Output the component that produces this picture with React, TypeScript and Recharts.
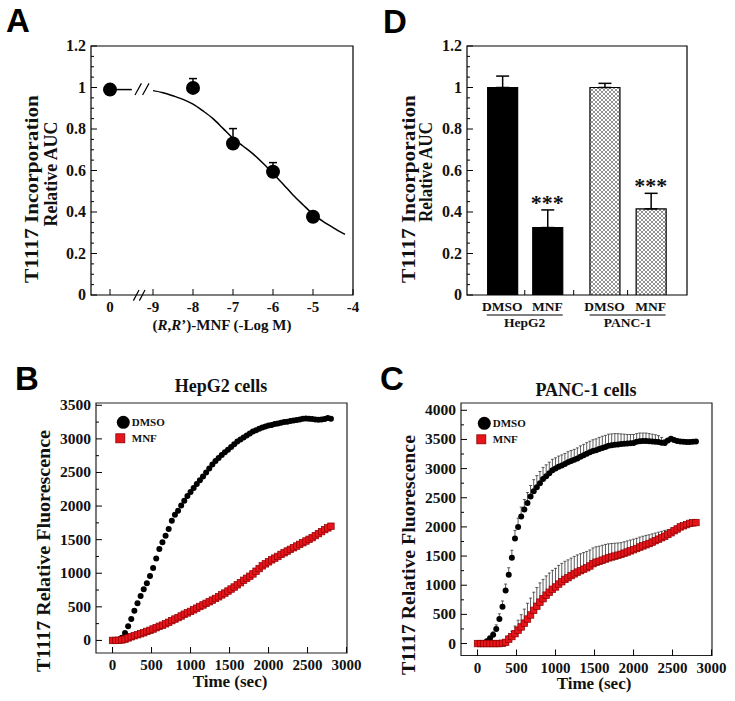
import React from "react";
import {
  ComposedChart, Line, Scatter, Bar, Cell, XAxis, YAxis, ErrorBar, ReferenceArea, ReferenceLine,
} from "recharts";

const SERIF = '"Liberation Serif", "Times New Roman", serif';
const SANS = '"Liberation Sans", Arial, sans-serif';
const RED = "#e8141c";
const RED_EDGE = "#8a0000";

// ---- Panel A: dose response ----
const doseLabels = ["0", "-8", "-7", "-6", "-5"];
const doseX = [-10.075, -8, -7, -6, -5]; // "0" dose sits left of the axis break
const doseAuc = [0.99, 0.998, 0.73, 0.594, 0.377];
const doseErr = [0, 0.045, 0.072, 0.044, 0];
const fitX = [-9, -8.75, -8.5, -8.25, -8, -7.75, -7.5, -7.25, -7, -6.75, -6.5, -6.25, -6, -5.75, -5.5, -5.25, -5, -4.75, -4.5, -4.2];
const fitY = [0.985, 0.975, 0.96, 0.943, 0.92, 0.887, 0.85, 0.803, 0.755, 0.718, 0.68, 0.635, 0.586, 0.535, 0.482, 0.435, 0.39, 0.355, 0.325, 0.292];
const xTicksA = [-10.075, -9, -8, -7, -6, -5, -4];
const xTickLabelsA = ["0", "-9", "-8", "-7", "-6", "-5", "-4"];
const yTicksAuc = [0, 0.05, 0.1, 0.15, 0.2, 0.25, 0.3, 0.35, 0.4, 0.45, 0.5, 0.55, 0.6, 0.65, 0.7, 0.75, 0.8, 0.85, 0.9, 0.95, 1, 1.05, 1.1, 1.15, 1.2];
const yMajorAuc = [0, 0.2, 0.4, 0.6, 0.8, 1, 1.2];
const breakX = -9.53;

// ---- Panel D: bars ----
const barNames = ["DMSO", "MNF", "DMSO", "MNF"];
const barCells = ["HepG2", "HepG2", "PANC-1", "PANC-1"];
const barX = [1.6, 3.65, 6.25, 8.35];
const barAuc = [1.0, 0.325, 1.0, 0.415];
const barErr = [0.055, 0.085, 0.02, 0.075];
const barSig = ["", "***", "", "***"];
const groupNames = ["HepG2", "PANC-1"];
const groupX = [2.625, 7.3];
const splitX = [4.85];

// ---- Panels B, C: kinetics ----
const times = [0, 40, 80, 120, 160, 200, 240, 280, 320, 360, 400, 440, 480, 520, 560, 600, 640, 680, 720, 760, 800, 840, 880, 920, 960, 1000, 1040, 1080, 1120, 1160, 1200, 1240, 1280, 1320, 1360, 1400, 1440, 1480, 1520, 1560, 1600, 1640, 1680, 1720, 1760, 1800, 1840, 1880, 1920, 1960, 2000, 2040, 2080, 2120, 2160, 2200, 2240, 2280, 2320, 2360, 2400, 2440, 2480, 2520, 2560, 2600, 2640, 2680, 2720, 2760, 2800];
const hepDmso = [0, 0, 5, 40, 110, 210, 320, 440, 555, 660,
  760, 850, 960, 1080, 1220, 1360, 1460, 1560, 1660, 1780,
  1870, 1930, 2010, 2080, 2150, 2210, 2270, 2330, 2385, 2440,
  2500, 2560, 2620, 2670, 2715, 2760, 2800, 2840, 2880, 2920,
  2960, 2990, 3020, 3050, 3080, 3110, 3130, 3150, 3170, 3185,
  3200, 3205, 3220, 3230, 3240, 3250, 3255, 3265, 3275, 3280,
  3290, 3300, 3305, 3300, 3295, 3290, 3285, 3290, 3295, 3310,
  3300];
const hepMnf = [0, 0, 2, 8, 20, 38, 55, 70, 85, 100,
  115, 134, 150, 170, 190, 210, 227, 248, 270, 295,
  318, 340, 364, 390, 410, 432, 456, 480, 505, 528,
  552, 576, 600, 625, 650, 678, 705, 735, 765, 795,
  828, 860, 895, 925, 955, 990, 1030, 1070, 1110, 1140,
  1170, 1200, 1225, 1250, 1280, 1305, 1330, 1355, 1380, 1405,
  1430, 1455, 1480, 1505, 1530, 1560, 1590, 1620, 1650, 1675,
  1700];
const pancDmso = [0, 0, 0, 40, 90, 150, 250, 420, 630, 910,
  1180, 1470, 1800, 2000, 2180, 2300, 2410, 2520, 2610, 2680,
  2750, 2820, 2870, 2920, 2970, 3000, 3030, 3055, 3080, 3110,
  3130, 3150, 3175, 3205, 3230, 3255, 3280, 3300, 3315, 3335,
  3355, 3370, 3390, 3400, 3410, 3415, 3420, 3425, 3430, 3435,
  3440, 3460, 3470, 3475, 3475, 3470, 3465, 3460, 3455, 3445,
  3440, 3480, 3510, 3490, 3475, 3465, 3460, 3455, 3455, 3460,
  3465];
const pancDmsoErr = [0, 0, 0, 20, 30, 50, 70, 90, 100, 110,
  120, 130, 140, 150, 160, 170, 180, 190, 200, 200,
  200, 200, 195, 190, 190, 185, 185, 180, 180, 180,
  180, 180, 180, 185, 185, 190, 190, 195, 195, 200,
  200, 200, 200, 195, 190, 185, 175, 165, 155, 150,
  145, 140, 140, 135, 135, 130, 125, 120, 110, 90,
  60, 30, 10, 0, 0, 0, 0, 0, 0, 0,
  0];
const pancMnf = [0, 0, 0, 0, 0, 0, 0, 0, 5, 20,
  75, 120, 170, 230, 285, 350, 420, 490, 570, 640,
  710, 770, 830, 880, 930, 970, 1020, 1060, 1100, 1130,
  1165, 1195, 1225, 1250, 1275, 1300, 1330, 1370, 1395, 1410,
  1430, 1450, 1470, 1485, 1500, 1515, 1530, 1550, 1570, 1590,
  1610, 1630, 1655, 1675, 1695, 1715, 1740, 1765, 1790, 1815,
  1840, 1870, 1900, 1935, 1965, 2000, 2020, 2040, 2060, 2070,
  2075];
const pancMnfErr = [0, 0, 0, 0, 0, 0, 0, 0, 10, 30,
  60, 90, 130, 170, 210, 240, 270, 290, 310, 320,
  330, 330, 330, 330, 325, 320, 320, 315, 310, 305,
  300, 300, 295, 290, 285, 280, 275, 270, 265, 260,
  255, 250, 240, 230, 220, 210, 200, 195, 190, 185,
  180, 175, 170, 165, 160, 150, 140, 130, 120, 110,
  100, 80, 60, 45, 30, 20, 10, 5, 0, 0,
  0];
const timeTicks = [0, 500, 1000, 1500, 2000, 2500, 3000];
const fluorTicksB = [0, 250, 500, 750, 1000, 1250, 1500, 1750, 2000, 2250, 2500, 2750, 3000, 3250, 3500];
const fluorTicksC = [0, 250, 500, 750, 1000, 1250, 1500, 1750, 2000, 2250, 2500, 2750, 3000, 3250, 3500, 3750, 4000];

const domA = [-10.55, -4];
const domTime = [-212, 3006];
const domB = [-187, 3534];
const domC = [-205, 4125];

// axis gutters: the plot box edge = margin + gutter
const YW = 40;
const XH = 30;

function leftTick(isMajor: (v: number) => boolean, size: number) {
  return (p: any) => {
    const v = p.payload.value;
    const major = isMajor(v);
    return (
      <g>
        <line x1={p.x} y1={p.y} x2={p.x + (major ? 6 : 3)} y2={p.y} stroke="#000" strokeWidth={1} />
        {major && (
          <text x={p.x - 5} y={p.y + 5} textAnchor="end" fontFamily={SERIF} fontWeight="bold" fontSize={size} fill="#111">
            {String(v)}
          </text>
        )}
      </g>
    );
  };
}

function bottomTick(labelOf: (v: number) => string, size: number) {
  return (p: any) => (
    <g>
      <line x1={p.x} y1={p.y} x2={p.x} y2={p.y - 6} stroke="#000" strokeWidth={1} />
      <text x={p.x} y={p.y + 17} textAnchor="middle" fontFamily={SERIF} fontWeight="bold" fontSize={size} fill="#111">
        {labelOf(p.payload.value)}
      </text>
    </g>
  );
}

function barTick(p: any) {
  const v = p.payload.value;
  const bi = barX.indexOf(v);
  const gi = groupX.indexOf(v);
  if (bi >= 0) {
    return (
      <text x={p.x} y={p.y + 16} textAnchor="middle" fontFamily={SERIF} fontWeight="bold" fontSize={13.5} fill="#111">
        {barNames[bi]}
      </text>
    );
  }
  return (
    <g>
      <line x1={p.x} y1={p.y} x2={p.x} y2={p.y - 5} stroke="#000" strokeWidth={1} />
      {gi >= 0 && (
        <g>
          <line x1={p.x - 38} y1={p.y + 20} x2={p.x + 38} y2={p.y + 20} stroke="#000" strokeWidth={1.2} />
          <text x={p.x} y={p.y + 32} textAnchor="middle" fontFamily={SERIF} fontWeight="bold" fontSize={13.5} fill="#111">
            {groupNames[gi]}
          </text>
        </g>
      )}
    </g>
  );
}

const dot = (r: number) => (p: any) => <circle cx={p.cx} cy={p.cy} r={r} fill="#000" />;
const square = (s: number) => (p: any) => (
  <rect x={p.cx - s / 2} y={p.cy - s / 2} width={s} height={s} fill={RED} stroke={RED_EDGE} strokeWidth={0.7} />
);

function PanelA() {
  const points = doseX.map((x, i) => ({ x, y: doseAuc[i], err: [0, doseErr[i]], label: doseLabels[i] }));
  const fit = fitX.map((x, i) => ({ x, y: fitY[i] }));
  const leadIn = [{ x: doseX[0], y: doseAuc[0] }, { x: breakX, y: doseAuc[0] }];
  const auc = yMajorAuc;
  return (
    <ComposedChart width={370} height={340} margin={{ top: 46, right: 17, bottom: 45 - XH, left: 91 - YW }}>
      <XAxis type="number" dataKey="x" domain={domA} allowDataOverflow ticks={xTicksA} interval={0}
        tickSize={0} tickMargin={0} axisLine={false} tickLine={false} height={XH}
        tick={bottomTick((v) => xTickLabelsA[xTicksA.indexOf(v)], 15)} />
      <YAxis type="number" dataKey="y" domain={[0, 1.2]} allowDataOverflow ticks={yTicksAuc} interval={0}
        tickSize={0} tickMargin={0} axisLine={false} tickLine={false} width={YW}
        tick={leftTick((v) => auc.includes(v), 16)} />
      <ReferenceArea x1={domA[0]} x2={domA[1]} y1={0} y2={1.2} fill="none" stroke="#000" strokeWidth={1.2} ifOverflow="visible" />
      <Line data={leadIn} dataKey="y" stroke="#000" strokeWidth={1.5} dot={false} isAnimationActive={false} />
      <Line data={fit} dataKey="y" type="monotone" stroke="#000" strokeWidth={1.5} dot={false} isAnimationActive={false} />
      <ReferenceLine segment={[{ x: -9.45, y: 0.964 }, { x: -9.29, y: 1.02 }]} stroke="#000" strokeWidth={1.2} ifOverflow="visible" />
      <ReferenceLine segment={[{ x: -9.26, y: 0.964 }, { x: -9.1, y: 1.02 }]} stroke="#000" strokeWidth={1.2} ifOverflow="visible" />
      <ReferenceLine segment={[{ x: -9.49, y: -0.027 }, { x: -9.35, y: 0.024 }]} stroke="#000" strokeWidth={1.2} ifOverflow="visible" />
      <ReferenceLine segment={[{ x: -9.34, y: -0.027 }, { x: -9.2, y: 0.024 }]} stroke="#000" strokeWidth={1.2} ifOverflow="visible" />
      <Scatter data={points} shape={dot(7)} isAnimationActive={false}>
        <ErrorBar dataKey="err" direction="y" width={4} stroke="#000" strokeWidth={1.5} />
      </Scatter>
    </ComposedChart>
  );
}

function PanelD() {
  const bars = barX.map((x, i) => ({ x, y: barAuc[i], err: [0, barErr[i]], cell: barCells[i] }));
  const stars = barX
    .map((x, i) => ({ x, y: barAuc[i] + barErr[i], sig: barSig[i] }))
    .filter((d) => d.sig);
  const auc = yMajorAuc;
  const ticks = [barX[0], groupX[0], barX[1], splitX[0], barX[2], groupX[1], barX[3]];
  return (
    <ComposedChart width={365} height={340} data={bars} margin={{ top: 46, right: 48, bottom: 45 - XH, left: 97 - YW }}>
      <XAxis type="number" dataKey="x" domain={[0, 10]} allowDataOverflow ticks={ticks} interval={0}
        tickSize={0} tickMargin={0} axisLine={false} tickLine={false} height={XH} tick={barTick} />
      <YAxis type="number" dataKey="y" domain={[0, 1.2]} allowDataOverflow ticks={yTicksAuc} interval={0}
        tickSize={0} tickMargin={0} axisLine={false} tickLine={false} width={YW}
        tick={leftTick((v) => auc.includes(v), 16)} />
      <Bar dataKey="y" barSize={30} isAnimationActive={false}>
        {bars.map((b, i) => (
          <Cell key={i} fill={b.cell === "HepG2" ? "#000" : "url(#xhatch)"} stroke="#000" strokeWidth={1.2} />
        ))}
        <ErrorBar dataKey="err" direction="y" width={6.5} stroke="#000" strokeWidth={1.5} />
      </Bar>
      <Scatter data={stars} isAnimationActive={false}
        shape={(p: any) => (
          <text x={p.cx} y={p.cy} textAnchor="middle" fontFamily={SERIF} fontWeight="bold" fontSize={22} fill="#111">
            {p.payload.sig}
          </text>
        )} />
      <ReferenceArea x1={0} x2={10} y1={0} y2={1.2} fill="none" stroke="#000" strokeWidth={1.2} ifOverflow="visible" />
    </ComposedChart>
  );
}

function Kinetics({ dmso, mnf, dmsoErr, mnfErr, yTicks, yDom, margin, width }: any) {
  const d1 = times.map((t, i) => ({ t, v: dmso[i], err: dmsoErr ? [0, dmsoErr[i]] : undefined }));
  const d2 = times.map((t, i) => ({ t, v: mnf[i], err: mnfErr ? [0, mnfErr[i]] : undefined }));
  return (
    <ComposedChart width={width} height={341} margin={margin}>
      <XAxis type="number" dataKey="t" domain={domTime} allowDataOverflow ticks={timeTicks} interval={0}
        tickSize={0} tickMargin={0} axisLine={false} tickLine={false} height={XH}
        tick={bottomTick((v) => String(v), 15)} />
      <YAxis type="number" dataKey="v" domain={yDom} allowDataOverflow ticks={yTicks} interval={0}
        tickSize={0} tickMargin={0} axisLine={false} tickLine={false} width={YW}
        tick={leftTick((v) => v % 500 === 0, 15.5)} />
      <ReferenceArea x1={domTime[0]} x2={domTime[1]} y1={yDom[0]} y2={yDom[1]} fill="none" stroke="#222" strokeWidth={1.2} ifOverflow="visible" />
      <Scatter data={d1} shape={dot(3)} isAnimationActive={false}>
        {dmsoErr && <ErrorBar dataKey="err" direction="y" width={1.5} stroke="#333" strokeWidth={0.8} />}
      </Scatter>
      <Scatter data={d2} shape={square(6.5)} isAnimationActive={false}>
        {mnfErr && <ErrorBar dataKey="err" direction="y" width={1.5} stroke="#333" strokeWidth={0.8} />}
      </Scatter>
    </ComposedChart>
  );
}

function VText({ x, y, len, size, children }: any) {
  return (
    <text x={x} y={y} transform={`rotate(-90 ${x} ${y})`} textAnchor="middle" textLength={len}
      lengthAdjust="spacingAndGlyphs" fontFamily={SERIF} fontWeight="bold" fontSize={size} fill="#111">
      {children}
    </text>
  );
}

function LegendBox({ x, y }: { x: number; y: number }) {
  return (
    <g fontFamily={SERIF} fontWeight="bold" fontSize={11} fill="#111">
      <circle cx={x} cy={y} r={6.5} fill="#000" />
      <text x={x + 8.5} y={y + 4}>DMSO</text>
      <rect x={x - 7.5} y={y + 11.5} width={9} height={9} fill={RED} stroke={RED_EDGE} strokeWidth={0.8} />
      <text x={x + 8.5} y={y + 20}>MNF</text>
    </g>
  );
}

export default function App() {
  return (
    <div style={{ position: "absolute", left: 0, top: 0, width: 735, height: 701, background: "#fff" }}>
      <div style={{ position: "absolute", left: 0, top: 0 }}>
        <PanelA />
      </div>
      <div style={{ position: "absolute", left: 370, top: 0 }}>
        <PanelD />
      </div>
      <div style={{ position: "absolute", left: 0, top: 360 }}>
        <Kinetics dmso={hepDmso} mnf={hepMnf} yTicks={fluorTicksB} yDom={domB} width={370}
          margin={{ top: 43, right: 23, bottom: 48 - XH, left: 96 - YW }} />
      </div>
      <div style={{ position: "absolute", left: 370, top: 360 }}>
        <Kinetics dmso={pancDmso} mnf={pancMnf} dmsoErr={pancDmsoErr} mnfErr={pancMnfErr} yTicks={fluorTicksC} yDom={domC} width={365}
          margin={{ top: 43, right: 23, bottom: 45.5 - XH, left: 91 - YW }} />
      </div>
      <svg width={735} height={701} style={{ position: "absolute", left: 0, top: 0, pointerEvents: "none" }}>
        <defs>
          <pattern id="xhatch" width={4} height={4} patternUnits="userSpaceOnUse">
            <rect width={4} height={4} fill="#fff" />
            <path d="M0,0 L4,4 M4,0 L0,4" stroke="#666" strokeWidth={0.7} />
          </pattern>
        </defs>
        <g fontFamily={SANS} fontWeight="bold" fontSize={33} fill="#000">
          <text x={6} y={32}>A</text>
          <text x={383} y={33}>D</text>
          <text x={15} y={390}>B</text>
          <text x={380} y={390}>C</text>
        </g>
        <g fontFamily={SERIF} fontWeight="bold" fontSize={18} fill="#111" textAnchor="middle">
          <text x={221} y={392}>HepG2 cells</text>
          <text x={586} y={396}>PANC-1 cells</text>
        </g>
        <VText x={38} y={189} len={188} size={18}>T1117 Incorporation</VText>
        <VText x={56.5} y={174} len={105} size={18}>Relative AUC</VText>
        <VText x={414.5} y={189} len={188} size={18}>T1117 Incorporation</VText>
        <VText x={431.5} y={172} len={100} size={18}>Relative AUC</VText>
        <VText x={50} y={551} len={242} size={18}>T1117 Relative Fluorescence</VText>
        <VText x={415} y={555} len={240} size={18}>T1117 Relative Fluorescence</VText>
        <g fontFamily={SERIF} fontWeight="bold" fontSize={15} fill="#111" textAnchor="middle">
          <text x={222} y={330}>
            (<tspan fontStyle="italic">R</tspan>,<tspan fontStyle="italic">R</tspan>’)-MNF (-Log M)
          </text>
          <text x={230} y={687} fontSize={17}>Time (sec)</text>
          <text x={594} y={689} fontSize={17}>Time (sec)</text>
        </g>
        <LegendBox x={123.3} y={422.3} />
        <LegendBox x={484.3} y={423.3} />
      </svg>
    </div>
  );
}
